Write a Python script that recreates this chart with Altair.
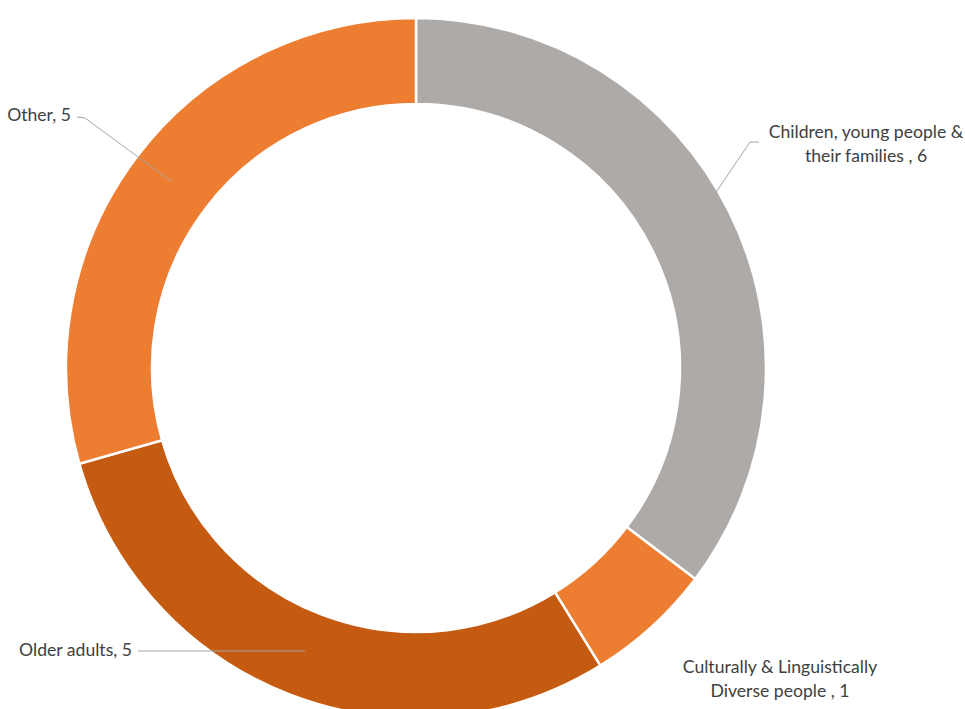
import altair as alt
import pandas as pd

categories = ["Children, young people & their families", "Culturally & Linguistically Diverse people", "Older adults", "Other"]
values = [6, 1, 5, 5]
colors = ["#ADAAA8", "#ED7D31", "#C55A11", "#ED7D31"]
order = [0, 1, 2, 3]

df = pd.DataFrame({"category": categories, "value": values, "order": order})

CX, CY = 416, 368
R_OUT, R_IN = 350, 264

arcs = alt.Chart(df).mark_arc(stroke="white", strokeWidth=2.5).encode(
    theta=alt.Theta("value:Q", stack=True),
    order=alt.Order("order:Q"),
    color=alt.Color("category:N", scale=alt.Scale(domain=categories, range=colors), legend=None),
    x=alt.value(CX),
    y=alt.value(CY),
    radius=alt.value(R_OUT),
    radius2=alt.value(R_IN),
)

dummy = pd.DataFrame({"a": [0]})
line_color = "#A6A6A6"

def seg(x1, y1, x2, y2):
    return alt.Chart(dummy).mark_rule(color=line_color, strokeWidth=1).encode(
        x=alt.value(x1), y=alt.value(y1), x2=alt.value(x2), y2=alt.value(y2))

lines = [
    seg(77, 117, 85, 118), seg(85, 118, 172, 182),
    seg(750, 142, 759, 142), seg(750, 142, 692, 228),
    seg(138, 651, 305, 651),
]

def txt(lines_, x, y, align):
    return alt.Chart(dummy).mark_text(
        text=lines_, align=align, baseline="middle", font="Lato", fontSize=17.6,
        color="#404040", lineHeight=24,
    ).encode(x=alt.value(x), y=alt.value(y))

labels = [
    txt(["Other, 5"], 71, 116, "right"),
    txt(["Children, young people &", "their families , 6"], 866, 133, "center"),
    txt(["Older adults, 5"], 132, 651, "right"),
    txt(["Culturally & Linguistically", "Diverse people , 1"], 780, 668, "center"),
]

chart = alt.layer(arcs, *lines, *labels).properties(
    width=965, height=709, padding=0, autosize=alt.AutoSizeParams(type="none")
).configure_view(stroke=None)

chart.save("out.html", embed_options={"renderer": "svg", "actions": False})
